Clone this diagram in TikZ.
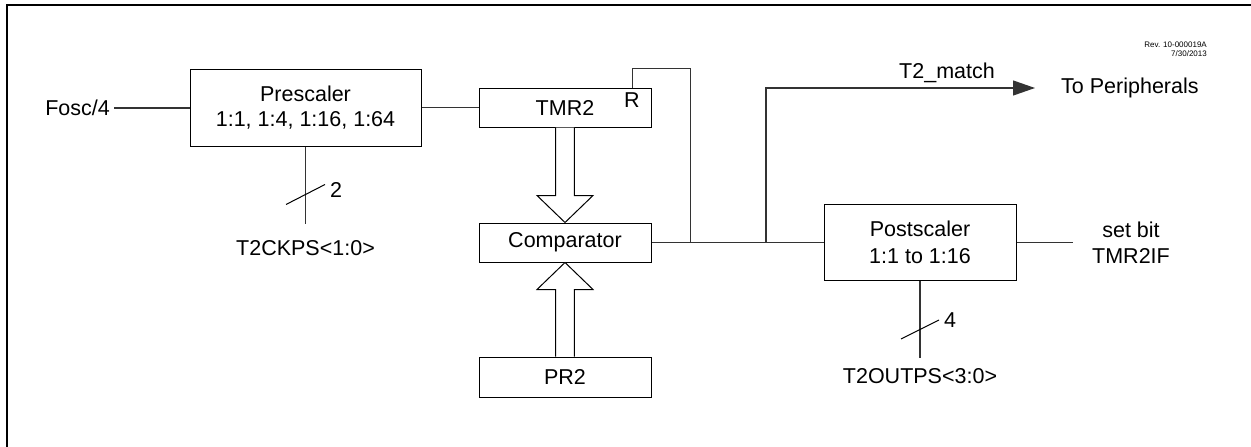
\documentclass[tikz,border=0pt]{standalone}
\usepackage{fontspec}
\setmainfont{Liberation Sans}
\usetikzlibrary{arrows.meta,calc}
\begin{document}
\begin{tikzpicture}[x=1pt,y=-1pt,
  blk/.style={draw, line width=1pt, inner sep=0pt, font=\fontsize{21.5}{25}\selectfont, align=center},
  wire/.style={line width=1.2pt, draw=black!80},
  lbl/.style={inner sep=0pt, font=\fontsize{21.5}{26}\selectfont, align=center},
  bus/.style={draw, line width=1pt, fill=white, line join=miter}
]
\useasboundingbox (0,0) rectangle (1251,447);
\draw[line width=2.2pt] (7,447) -- (7,5) -- (1251,5);

% revision text
\node[inner sep=0pt, anchor=north east, align=right, font=\fontsize{8}{8.5}\selectfont] (rev) at (1207,42) {Rev. 10-000019A\\7/30/2013};

% blocks
\node[blk, minimum width=231pt, minimum height=77pt] (pre) at (305.5,107.5) {Prescaler\\1:1, 1:4, 1:16, 1:64};
\node[blk, minimum width=172pt, minimum height=39pt] (tmr) at (565,107.5) {TMR2};
\node[blk, minimum width=172pt, minimum height=39pt] (cmp) at (565,242.5) {Comparator};
\node[blk, minimum width=172pt, minimum height=40pt] (pr2) at (565,377) {PR2};
\node[blk, minimum width=192pt, minimum height=76pt, font=\fontsize{21.5}{27}\selectfont] (post) at (920,242.5) {Postscaler\\1:1 to 1:16};
\node[lbl] (r) at (632,100) {R};

% input
\node[lbl, anchor=east] (fosc) at (110,108) {Fosc/4};
\draw[wire] (fosc.east) ++(4,0) coordinate (fin) -- (fin -| pre.west);
\draw[wire] (pre.east) -- (tmr.west);

% prescaler select
\draw[wire] (pre.south) -- ++(0,77) coordinate (ckend);
\draw[line width=1pt] ($(pre.south)+(-19.5,58)$) -- ++(39,-20);
\node[lbl] (two) at (336,190) {2};
\node[lbl] (cks) at (305.5,248) {T2CKPS<1:0>};

% reset path
\coordinate (rst) at ($(tmr.north east)+(-19,0)$);
\coordinate (rtop) at ($(rst)+(0,-19)$);
\coordinate (rright) at ($(rtop)+(58,0)$);
\draw[wire] (rst) -- (rtop) -- (rright) -- (rright |- cmp.east);

% bus arrow TMR2 -> comparator
\draw[bus] ($(tmr.south)+(-9.3,0)$) -- ($(cmp.north)+(-9.3,-27)$) -- ($(cmp.north)+(-28,-27)$) -- (cmp.north)
  -- ($(cmp.north)+(28,-27)$) -- ($(cmp.north)+(9.3,-27)$) -- ($(tmr.south)+(9.3,0)$);
% bus arrow PR2 -> comparator
\draw[bus] ($(pr2.north)+(-9.3,0)$) -- ($(cmp.south)+(-9.3,27)$) -- ($(cmp.south)+(-28,27)$) -- (cmp.south)
  -- ($(cmp.south)+(28,27)$) -- ($(cmp.south)+(9.3,27)$) -- ($(pr2.north)+(9.3,0)$);

% comparator output
\draw[wire] (cmp.east) -- (post.west);
\coordinate (br) at (766,242.5);
\coordinate (brtop) at (766,88);
\coordinate (tip) at (1035,88);
\draw[wire, -{Triangle[length=22pt,width=15pt]}] (br) -- (brtop) -- (tip);
\node[lbl] (match) at (947,73) {T2\_match};
\node[lbl, anchor=west] (periph) at (1061,88) {To Peripherals};

% postscaler output
\coordinate (pout) at (1073,242.5);
\draw[wire] (post.east) -- (pout);
\node[lbl] (setbit) at (1131,243) {set bit\\TMR2IF};

% postscaler select
\draw[wire] (post.south) -- ++(0,77) coordinate (psend);
\draw[line width=1pt] ($(post.south)+(-19,58)$) -- ++(38,-19);
\node[lbl] (four) at (950,320) {4};
\node[lbl] (outps) at (920,376) {T2OUTPS<3:0>};
\end{tikzpicture}
\end{document}
